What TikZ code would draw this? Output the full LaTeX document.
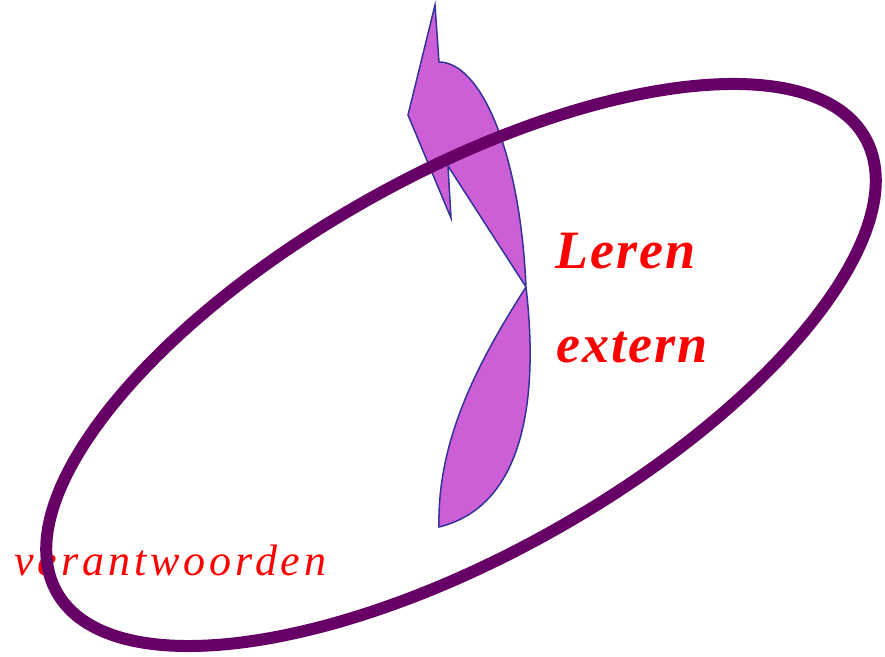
\documentclass[tikz,border=0pt]{standalone}
\usepackage{fontspec}
\setmainfont{Liberation Serif}
\definecolor{tmplum}{RGB}{102,0,102}
\definecolor{tmorchid}{RGB}{204,95,214}
\definecolor{tmnavy}{RGB}{51,51,153}
\definecolor{tmred}{RGB}{255,0,0}
\tikzset{
  lbl/.style={text=tmred,anchor=base west,inner sep=0pt},
}
\begin{document}
\begin{tikzpicture}[x=1pt,y=-1pt]
  \useasboundingbox (0,0) rectangle (885,656);
  % twisted arrow
  \coordinate (A) at (435,5);
  \coordinate (B) at (439,62);
  \coordinate (C) at (526,287);
  \coordinate (D) at (439,527);
  \coordinate (E) at (448,166);
  \coordinate (F) at (451,218);
  \coordinate (G) at (408,115);
  \draw[tmnavy,fill=tmorchid,line width=1.5pt,line join=miter]
    (A) -- (B) .. controls (480,62) and (520,150) .. (C)
    .. controls (538,390) and (528,505) .. (D)
    .. controls (437,440) and (478,362) .. (C)
    -- (E) -- (F) -- (G) -- cycle;
  % labels
  \node[lbl,font=\bfseries\itshape\fontsize{54}{54}\selectfont\addfontfeatures{LetterSpace=4}] (leren) at (555,268) {Leren};
  \node[lbl,font=\bfseries\itshape\fontsize{54}{54}\selectfont\addfontfeatures{LetterSpace=4}] (extern) at (556,362) {extern};
  \node[lbl,font=\itshape\fontsize{44}{44}\selectfont\addfontfeatures{LetterSpace=9}] (verantw) at (14,575) {verantwoorden};
  % ring
  \coordinate (O) at (461,365);
  \draw[tmplum,line width=12pt,rotate around={29.35:(O)}] (O) ellipse [x radius=463.7pt,y radius=189.6pt];
\end{tikzpicture}
\end{document}
